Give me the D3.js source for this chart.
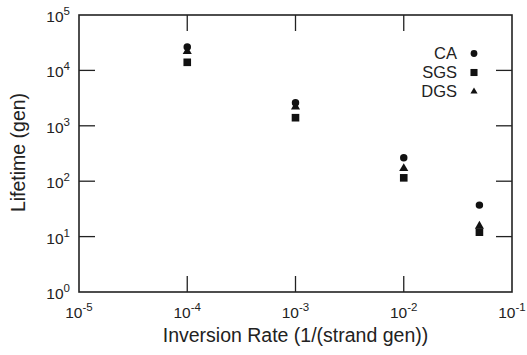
<!DOCTYPE html>
<html>
<head>
<meta charset="utf-8">
<script src="https://cdn.jsdelivr.net/npm/d3@7"></script>
<style>
  body { margin: 0; background: #fff; }
  svg { font-family: "Liberation Sans", Arial, sans-serif; }
</style>
</head>
<body>
<svg id="chart" width="527" height="355"></svg>
<script>
// inversion rates (x) and lifetimes (y) per method
const rates = [1e-4, 1e-3, 1e-2, 0.05];
const caLife = [26500, 2600, 265, 37];
const sgsLife = [14000, 1400, 115, 12];
const dgsLife = [22000, 2200, 170, 15.5];
const seriesNames = ["CA", "SGS", "DGS"];
const xTickExps = [-5, -4, -3, -2, -1];
const yTickExps = [0, 1, 2, 3, 4, 5];

const margin = {left: 79, top: 15, right: 15, bottom: 63};
const width = 527, height = 355;
const ink = "#222";

const svg = d3.select("#chart");

const x = d3.scaleLog().domain([1e-5, 1e-1]).range([margin.left, width - margin.right]);
const y = d3.scaleLog().domain([1, 1e5]).range([height - margin.bottom, margin.top]);

const x0 = x.range()[0], x1 = x.range()[1];
const y0 = y.range()[0], y1 = y.range()[1];
const tickLen = 16;

// frame
svg.append("rect")
  .attr("x", x0).attr("y", y1)
  .attr("width", x1 - x0).attr("height", y0 - y1)
  .attr("fill", "none").attr("stroke", ink).attr("stroke-width", 1.6);

// inner ticks on all four sides
const g = svg.append("g").attr("stroke", ink).attr("stroke-width", 1.3);
xTickExps.slice(1, -1).forEach(e => {
  const px = x(Math.pow(10, e));
  g.append("line").attr("x1", px).attr("x2", px).attr("y1", y0).attr("y2", y0 - tickLen);
  g.append("line").attr("x1", px).attr("x2", px).attr("y1", y1).attr("y2", y1 + tickLen);
});
yTickExps.slice(1, -1).forEach(e => {
  const py = y(Math.pow(10, e));
  g.append("line").attr("x1", x0).attr("x2", x0 + tickLen).attr("y1", py).attr("y2", py);
  g.append("line").attr("x1", x1).attr("x2", x1 - tickLen).attr("y1", py).attr("y2", py);
});

// power-of-ten labels
function powLabel(sel, e) {
  sel.append("tspan").text("10");
  sel.append("tspan").attr("dy", -7).attr("font-size", 11.5).text(e);
}

xTickExps.forEach(e => {
  const t = svg.append("text")
    .attr("x", x(Math.pow(10, e))).attr("y", y0 + 26)
    .attr("text-anchor", "middle")
    .attr("font-size", 15.5).attr("fill", ink);
  powLabel(t, e);
});
yTickExps.forEach(e => {
  const t = svg.append("text")
    .attr("x", x0 - 9).attr("y", y(Math.pow(10, e)) + 7)
    .attr("text-anchor", "end")
    .attr("font-size", 15.5).attr("fill", ink);
  powLabel(t, e);
});

// axis titles
svg.append("text")
  .attr("x", (x0 + x1) / 2).attr("y", 342)
  .attr("text-anchor", "middle").attr("font-size", 19.5).attr("fill", ink)
  .text("Inversion Rate (1/(strand gen))");
svg.append("text")
  .attr("transform", `translate(25,${(y0 + y1) / 2 - 1}) rotate(-90)`)
  .attr("text-anchor", "middle").attr("font-size", 19.5).attr("fill", ink)
  .text("Lifetime (gen)");

// markers
const symbols = {
  CA: d3.symbol().type(d3.symbolCircle).size(44),
  SGS: d3.symbol().type(d3.symbolSquare).size(58),
  DGS: d3.symbol().type(d3.symbolTriangle).size(36)
};
const seriesData = {CA: caLife, SGS: sgsLife, DGS: dgsLife};

["SGS", "DGS", "CA"].forEach(name => {
  svg.append("g").selectAll("path")
    .data(rates.map((r, i) => [r, seriesData[name][i]]))
    .join("path")
    .attr("transform", d => `translate(${x(d[0])},${y(d[1])})`)
    .attr("d", symbols[name])
    .attr("fill", "#111");
});

// legend
const legendSym = {
  CA: d3.symbol().type(d3.symbolCircle).size(36),
  SGS: d3.symbol().type(d3.symbolSquare).size(50),
  DGS: d3.symbol().type(d3.symbolTriangle).size(22)
};
seriesNames.forEach((name, i) => {
  const ly = 53.5 + i * 19;
  svg.append("text")
    .attr("x", 457).attr("y", ly + 5.5)
    .attr("text-anchor", "end").attr("font-size", 16.5).attr("fill", ink)
    .text(name);
  svg.append("path")
    .attr("transform", `translate(474,${ly})`)
    .attr("d", legendSym[name])
    .attr("fill", "#111");
});
</script>
</body>
</html>
